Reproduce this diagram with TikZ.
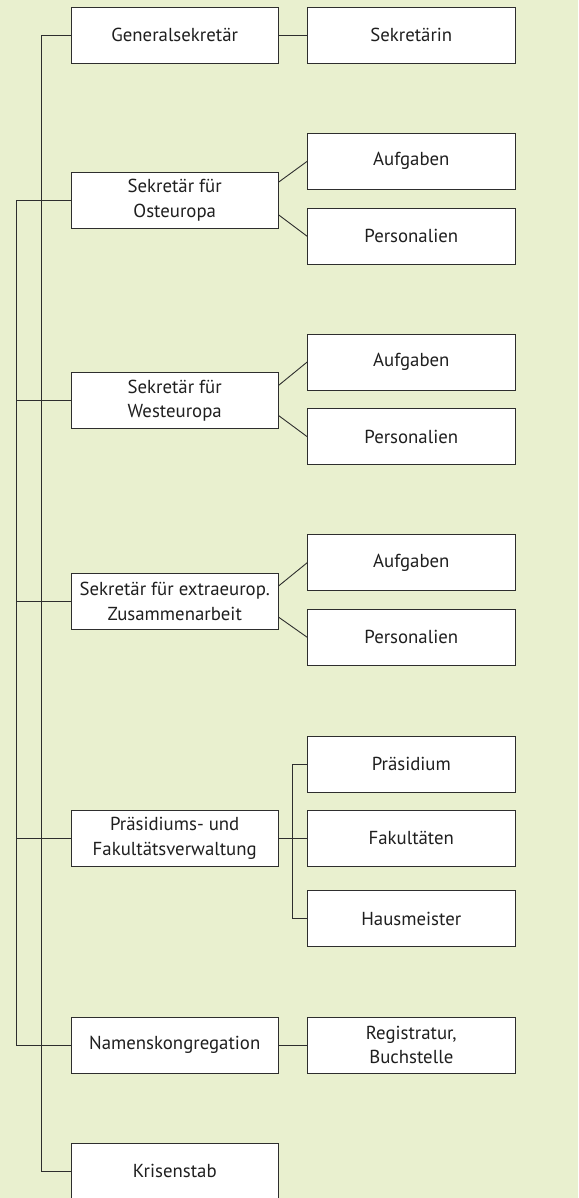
\documentclass[tikz,border=0pt]{standalone}
\usepackage{fontspec}
\setmainfont{PT Sans}
\usetikzlibrary{calc}
\definecolor{bg}{HTML}{E9F0CF}
\definecolor{ln}{HTML}{2E2E2E}
\begin{document}
\begin{tikzpicture}[x=1pt,y=-1pt,
  box/.style={draw=ln,line width=0.9pt,fill=white,minimum width=207.3pt,minimum height=56pt,
    inner sep=2pt,align=center,font=\fontsize{18.8}{24.5}\selectfont,text=black!88},
  conn/.style={draw=ln,line width=0.9pt}]
\fill[bg] (0,0) rectangle (578,1198);
\useasboundingbox (0,0) rectangle (578,1198);
\begin{scope}
\clip (0,0) rectangle (578,1198);
% left column
\node[box] (gen) at (174.7,35) {Generalsekretär};
\node[box] (ost) at (174.7,200) {Sekretär für\\Osteuropa};
\node[box] (west) at (174.7,400.7) {Sekretär für\\Westeuropa};
\node[box] (extra) at (174.7,601.3) {Sekretär für extraeurop.\\Zusammenarbeit};
\node[box] (praes) at (174.7,838.3) {Präsidiums- und\\Fakultätsverwaltung};
\node[box] (namen) at (174.7,1045) {Namenskongregation};
\node[box] (kris) at (174.7,1171.3) {Krisenstab};
% right column
\node[box] (sek) at (411.3,35) {Sekretärin};
\node[box] (osta) at (411.3,161.3) {Aufgaben};
\node[box] (ostp) at (411.3,236.3) {Personalien};
\node[box] (westa) at (411.3,362) {Aufgaben};
\node[box] (westp) at (411.3,436.7) {Personalien};
\node[box] (extraa) at (411.3,562.7) {Aufgaben};
\node[box] (extrap) at (411.3,637.3) {Personalien};
\node[box] (pr1) at (411.3,764) {Präsidium};
\node[box] (pr2) at (411.3,838.3) {Fakultäten};
\node[box] (pr3) at (411.3,918.7) {Hausmeister};
\node[box] (reg) at (411.3,1045) {Registratur,\\Buchstelle};
% trunks
\coordinate (busA) at (41,0);
\coordinate (busB) at (16,0);
\coordinate (busP) at (292.3,0);
\draw[conn] (gen.west) -- (busA |- gen.west) -- (busA |- kris.west) -- (kris.west);
\draw[conn] (ost.west) -- (busB |- ost.west) -- (busB |- namen.west) -- (namen.west);
\draw[conn] (busB |- west.west) -- (west.west);
\draw[conn] (busB |- extra.west) -- (extra.west);
\draw[conn] (busB |- praes.west) -- (praes.west);
% right connections
\draw[conn] (gen.east) -- (sek.west);
\draw[conn] (namen.east) -- (reg.west);
\draw[conn] ($(ost.east)+(0,-18)$) -- (osta.west);
\draw[conn] ($(ost.east)+(0,15)$) -- (ostp.west);
\draw[conn] ($(west.east)+(0,-15.5)$) -- (westa.west);
\draw[conn] ($(west.east)+(0,15)$) -- (westp.west);
\draw[conn] ($(extra.east)+(0,-15.5)$) -- (extraa.west);
\draw[conn] ($(extra.east)+(0,16)$) -- (extrap.west);
\draw[conn] (praes.east) -- (pr2.west);
\draw[conn] (pr1.west) -- (busP |- pr1.west) -- (busP |- pr3.west) -- (pr3.west);
\end{scope}
\end{tikzpicture}
\end{document}
